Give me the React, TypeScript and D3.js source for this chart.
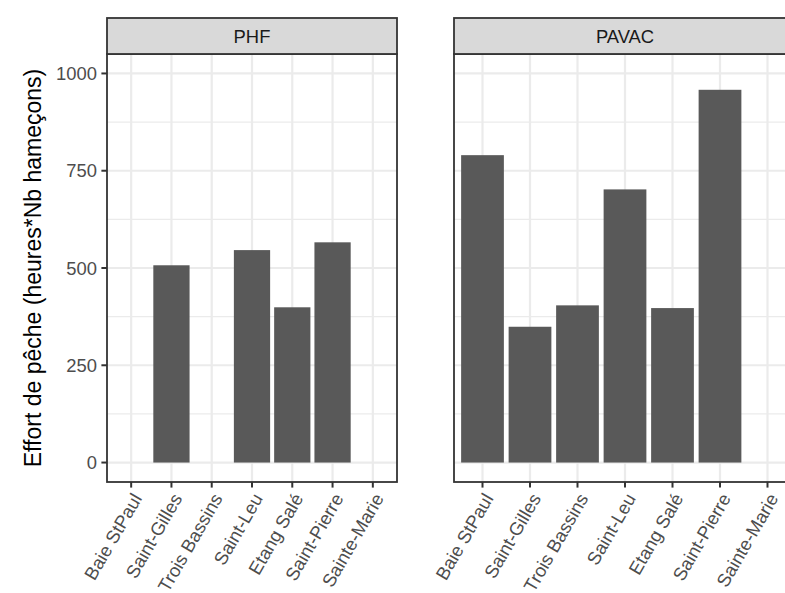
import React from 'react';
import * as d3 from 'd3';

// Sites (x categories), shared by both panels
const sites = ['Baie StPaul', 'Saint-Gilles', 'Trois Bassins', 'Saint-Leu', 'Etang Salé', 'Saint-Pierre', 'Sainte-Marie'];

// Effort values per site (null = no bar)
const phfValues: (number | null)[] = [null, 507, null, 546, 399, 566, null];
const pavacValues: (number | null)[] = [790, 349, 404, 702, 397, 958, null];

const yTicks = [0, 250, 500, 750, 1000];
const yMinor = [125, 375, 625, 875];

const panels = [
  { label: 'PHF', values: phfValues, left: 107, right: 397, yAxis: true },
  { label: 'PAVAC', values: pavacValues, left: 454, right: 796, yAxis: false },
];

const W = 785;
const H = 593;
const FONT = '"Liberation Sans", Arial, sans-serif';

const App: React.FC = () => {
  const stripTop = 18;
  const panelTop = 54;
  const panelBottom = 482;
  const tickLen = 5.6;
  const fs = 18.4;

  const y = d3.scaleLinear().domain([-50, 1050]).range([panelBottom, panelTop]);

  return (
    <svg width={W} height={H} style={{ position: 'absolute', left: 0, top: 0, background: '#fff' }} fontFamily={FONT}>
      {panels.map(p => {
        const x = d3.scaleBand<string>()
          .domain(sites)
          .range([p.left, p.right])
          .paddingInner(0.1)
          .paddingOuter(0.15);
        const cx = (s: string) => (x(s) as number) + x.bandwidth() / 2;
        return (
          <g key={p.label}>
            <rect x={p.left} y={panelTop} width={p.right - p.left} height={panelBottom - panelTop} fill="#fff" />
            {/* minor grid */}
            {yMinor.map(v => (
              <line key={'mi' + v} x1={p.left} x2={p.right} y1={y(v)} y2={y(v)} stroke="#EBEBEB" strokeWidth={1.1} />
            ))}
            {/* major grid */}
            {yTicks.map(v => (
              <line key={'ma' + v} x1={p.left} x2={p.right} y1={y(v)} y2={y(v)} stroke="#EBEBEB" strokeWidth={2.2} />
            ))}
            {sites.map(s => (
              <line key={'vx' + s} x1={cx(s)} x2={cx(s)} y1={panelTop} y2={panelBottom} stroke="#EBEBEB" strokeWidth={2.2} />
            ))}
            {/* bars */}
            {sites.map((s, i) => {
              const v = p.values[i];
              if (v == null) return null;
              return (
                <rect key={'b' + s} x={x(s)} y={y(v)} width={x.bandwidth()} height={y(0) - y(v)} fill="#595959" />
              );
            })}
            {/* border */}
            <rect x={p.left} y={panelTop} width={p.right - p.left} height={panelBottom - panelTop} fill="none" stroke="#333333" strokeWidth={1.8} />
            {/* strip */}
            <rect x={p.left} y={stripTop} width={p.right - p.left} height={panelTop - stripTop} fill="#D9D9D9" stroke="#333333" strokeWidth={1.8} />
            <text x={(p.left + p.right) / 2} y={(stripTop + panelTop) / 2} dy="0.36em" textAnchor="middle" fontSize={fs} fill="#1A1A1A">
              {p.label}
            </text>
            {/* x axis ticks and labels */}
            {sites.map(s => (
              <g key={'xt' + s}>
                <line x1={cx(s)} x2={cx(s)} y1={panelBottom} y2={panelBottom + tickLen} stroke="#333333" strokeWidth={2} />
                <text
                  transform={`translate(${cx(s)},${panelBottom + tickLen + 4}) rotate(-60)`}
                  textAnchor="end"
                  dy="0.72em"
                  fontSize={fs}
                  fill="#4D4D4D"
                >
                  {s}
                </text>
              </g>
            ))}
            {/* y axis */}
            {p.yAxis && yTicks.map(v => (
              <g key={'yt' + v}>
                <line x1={p.left - tickLen} x2={p.left} y1={y(v)} y2={y(v)} stroke="#333333" strokeWidth={2} />
                <text x={p.left - tickLen - 4.5} y={y(v)} dy="0.36em" textAnchor="end" fontSize={fs} fill="#4D4D4D">
                  {v}
                </text>
              </g>
            ))}
          </g>
        );
      })}
      {/* y axis title */}
      <text
        transform={`translate(40.5,${(panelTop + panelBottom) / 2}) rotate(-90)`}
        textAnchor="middle"
        fontSize={23}
        fill="#000"
      >
        Effort de pêche (heures*Nb hameçons)
      </text>
    </svg>
  );
};

export default App;
